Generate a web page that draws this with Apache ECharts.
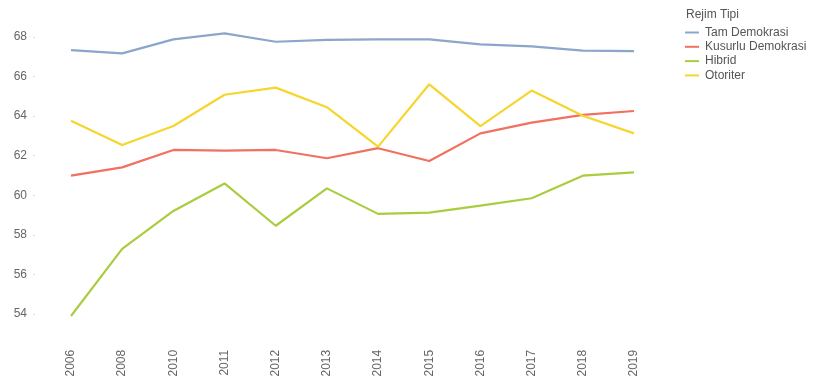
<!DOCTYPE html>
<html>
<head>
<meta charset="utf-8">
<script src="https://cdn.jsdelivr.net/npm/echarts@6/dist/echarts.min.js"></script>
<style>html,body{margin:0;padding:0;background:#fff}#c{width:825px;height:385px}</style>
</head>
<body>
<div id="c"></div>
<script>
var years = ['2006','2008','2010','2011','2012','2013','2014','2015','2016','2017','2018','2019'];
var tamDemokrasi = [67.34, 67.17, 67.88, 68.18, 67.76, 67.85, 67.88, 67.88, 67.63, 67.53, 67.31, 67.29];
var kusurluDemokrasi = [60.99, 61.41, 62.29, 62.26, 62.29, 61.87, 62.38, 61.73, 63.13, 63.67, 64.06, 64.26];
var hibrid = [53.9, 57.29, 59.21, 60.6, 58.46, 60.35, 59.06, 59.12, 59.48, 59.85, 60.99, 61.16];
var otoriter = [63.77, 62.54, 63.5, 65.08, 65.44, 64.45, 62.46, 65.61, 63.5, 65.29, 64.02, 63.13];
var yTicks = [54, 56, 58, 60, 62, 64, 66, 68];

var names = ['Tam Demokrasi', 'Kusurlu Demokrasi', 'Hibrid', 'Otoriter'];
var colors = ['#8aa6cc', '#f1705f', '#a9cd3f', '#f6d52c'];
var datas = [tamDemokrasi, kusurluDemokrasi, hibrid, otoriter];
var font = 'Liberation Sans, Arial, sans-serif';

var chart = echarts.init(document.getElementById('c'), null, {renderer: 'canvas'});
chart.setOption({
  animation: false,
  title: {
    text: 'Rejim Tipi', left: 686, top: 9, padding: 0,
    textStyle: {fontSize: 12, fontWeight: 'normal', color: '#555', fontFamily: font}
  },
  legend: {
    orient: 'vertical', left: 685, top: 26, padding: 0,
    itemWidth: 14, itemHeight: 2, itemGap: 1.3,
    icon: 'rect',
    data: names,
    textStyle: {fontSize: 12, color: '#555', lineHeight: 13, padding: [0, 0, 0, 1], fontFamily: font}
  },
  grid: {left: 71, right: 191, top: 17.2, bottom: 51.2, containLabel: false},
  xAxis: {
    type: 'category', data: years, boundaryGap: false,
    axisLine: {show: false}, axisTick: {show: false},
    axisLabel: {rotate: 90, margin: 16, fontSize: 12, color: '#666', fontFamily: font}
  },
  yAxis: {
    type: 'value', min: 53, max: 69, offset: 36,
    axisLine: {show: false},
    splitLine: {show: false},
    axisTick: {show: true, length: 2, lineStyle: {color: '#ddd'}, customValues: yTicks},
    axisLabel: {margin: 8, fontSize: 12, color: '#666', customValues: yTicks, fontFamily: font}
  },
  series: datas.map(function (d, i) {
    return {
      name: names[i], type: 'line', data: d, showSymbol: false, symbol: 'none',
      lineStyle: {width: 2.2, color: colors[i]}, itemStyle: {color: colors[i]}
    };
  })
});
</script>
</body>
</html>
